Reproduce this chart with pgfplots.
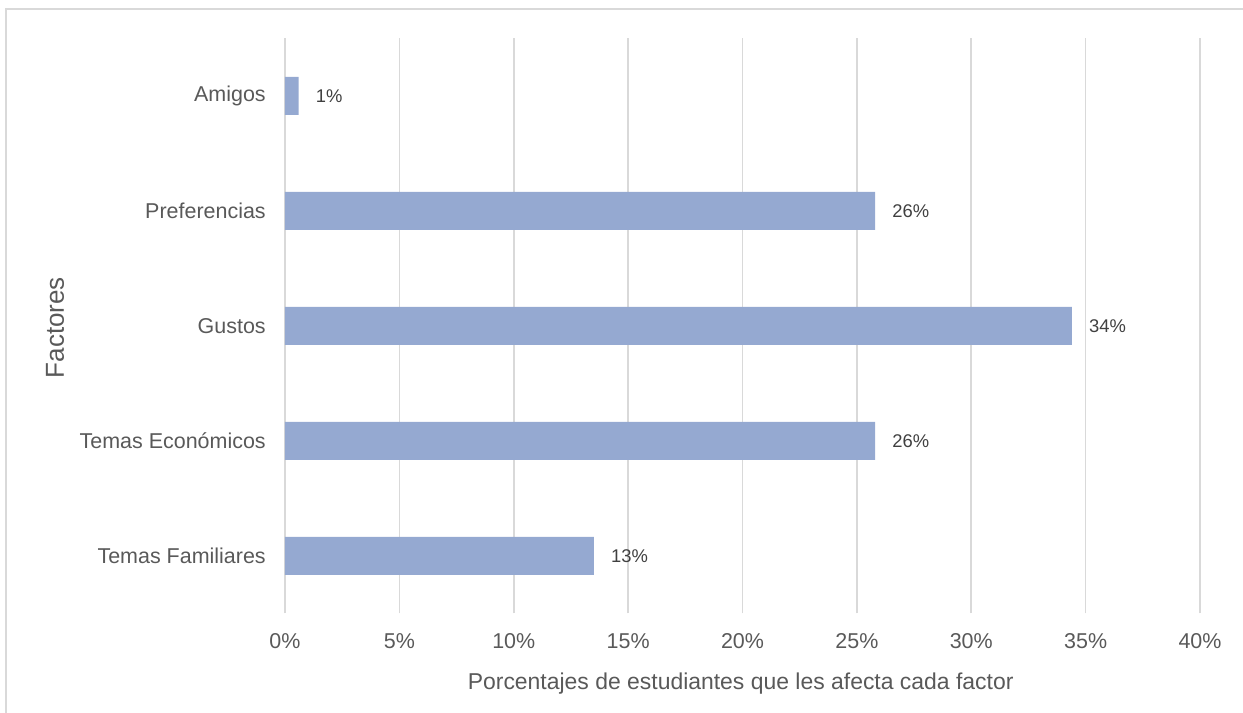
\documentclass[border=0pt]{standalone}
\usepackage{pgfplots}
\pgfplotsset{compat=1.18}
\usepackage{fontspec}
\setmainfont{Liberation Sans}

\definecolor{barblue}{HTML}{95A9D1}
\definecolor{txtgray}{HTML}{595959}
\definecolor{gridgray}{HTML}{D9D9D9}

\begin{document}
\begin{tikzpicture}
  % page = 1243 x 713 px at 0.75pt per px
  \useasboundingbox (0,0) rectangle (932.25pt,534.75pt);
  \draw[gridgray, line width=1pt] (4.5pt,0) -- (4.5pt,528pt) -- (932.25pt,528pt);

  \begin{axis}[
      at={(213.75pt,74.625pt)}, anchor=south west,
      scale only axis,
      width=686.25pt, height=431.25pt,
      xbar, bar width=28.5pt,
      xmin=0, xmax=40,
      ymin=-0.5, ymax=4.5,
      xtick={0,5,...,40},
      xticklabel={\pgfmathprintnumber{\tick}\%},
      ytick={0,1,2,3,4},
      yticklabels={Temas Familiares, Temas Económicos, Gustos, Preferencias, Amigos},
      major tick length=0pt,
      axis line style={draw=none},
      xmajorgrids,
      grid style={gridgray, line width=1.2pt},
      /pgf/number format/assume math mode=true,
      tick label style={font=\fontsize{16.1}{19}\selectfont, text=txtgray},
      xticklabel style={anchor=base, yshift=-26.25pt},
      yticklabel style={anchor=east, inner sep=0pt, xshift=-14.25pt},
      xlabel={Porcentajes de estudiantes que les afecta cada factor},
      ylabel={Factores},
      xlabel style={font=\fontsize{17.2}{20}\selectfont, text=txtgray,
        at={(axis description cs:0.498,-0.1226)}, anchor=center},
      ylabel style={font=\fontsize{19.5}{22}\selectfont, text=txtgray,
        at={(axis description cs:-0.2514,0.497)}, anchor=center},
      nodes near coords,
      point meta=explicit symbolic,
      every node near coord/.append style={font=\fontsize{13.8}{16}\selectfont,
        text=black!75, anchor=west, inner sep=0pt, xshift=12.75pt},
    ]
    \addplot[fill=barblue, draw=none] coordinates {
      (13.5,0) [13\%]
      (25.8,1) [26\%]
      (34.4,2) [34\%]
      (25.8,3) [26\%]
      (0.6,4)  [1\%]
    };
  \end{axis}
\end{tikzpicture}
\end{document}
